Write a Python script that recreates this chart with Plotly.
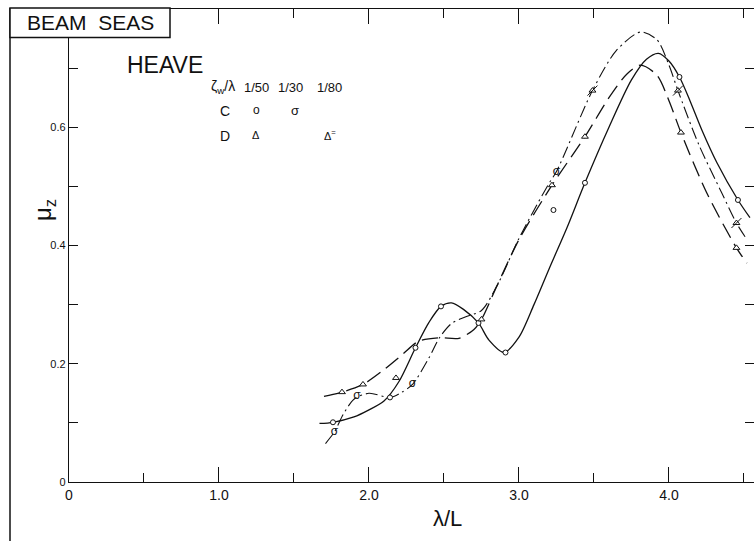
import plotly.graph_objects as go

# ---- curve traces (lambda/L , mu_z) ----
solid_x = [1.67, 1.76, 1.90, 2.00, 2.10, 2.20, 2.31, 2.40, 2.48, 2.55, 2.63, 2.73, 2.80, 2.90, 3.00, 3.10, 3.20, 3.32, 3.44, 3.60, 3.75, 3.85, 3.93, 4.00, 4.07, 4.14, 4.22, 4.32, 4.46, 4.54]
solid_y = [0.099, 0.101, 0.110, 0.122, 0.137, 0.170, 0.227, 0.270, 0.297, 0.303, 0.292, 0.269, 0.240, 0.219, 0.245, 0.300, 0.360, 0.430, 0.506, 0.600, 0.680, 0.715, 0.725, 0.712, 0.685, 0.645, 0.595, 0.540, 0.477, 0.447]

dash_x = [1.70, 1.82, 1.96, 2.10, 2.22, 2.33, 2.47, 2.60, 2.70, 2.75, 2.85, 3.00, 3.22, 3.44, 3.60, 3.72, 3.81, 3.92, 4.00, 4.08, 4.25, 4.45, 4.52]
dash_y = [0.145, 0.152, 0.165, 0.190, 0.215, 0.238, 0.244, 0.243, 0.258, 0.275, 0.330, 0.410, 0.502, 0.584, 0.650, 0.690, 0.705, 0.688, 0.645, 0.591, 0.490, 0.396, 0.370]

chain_x = [1.71, 1.77, 1.83, 1.90, 2.00, 2.14, 2.22, 2.29, 2.40, 2.47, 2.55, 2.65, 2.75, 2.86, 3.00, 3.20, 3.25, 3.49, 3.65, 3.81, 3.92, 4.00, 4.06, 4.20, 4.35, 4.45, 4.52]
chain_y = [0.065, 0.085, 0.115, 0.140, 0.150, 0.143, 0.152, 0.165, 0.210, 0.244, 0.268, 0.280, 0.290, 0.335, 0.412, 0.505, 0.525, 0.662, 0.730, 0.761, 0.748, 0.705, 0.662, 0.570, 0.490, 0.438, 0.410]

# ---- measured points ----
c50_x = [1.76, 2.14, 2.31, 2.48, 2.73, 2.91, 3.23, 3.44, 4.07, 4.46]
c50_y = [0.101, 0.143, 0.227, 0.297, 0.269, 0.219, 0.460, 0.506, 0.685, 0.477]
c30_x = [1.77, 1.92, 2.29, 3.25]
c30_y = [0.085, 0.146, 0.165, 0.525]
d50_x = [1.82, 1.96, 2.18, 2.75, 3.22, 3.44, 4.08, 4.45]
d50_y = [0.152, 0.165, 0.176, 0.275, 0.502, 0.584, 0.591, 0.396]
d80_x = [3.49, 4.06, 4.45]
d80_y = [0.662, 0.662, 0.438]

x_tick_vals = [0, 1, 2, 3, 4]
x_tick_text = ["0", "1.0", "2.0", "3.0", "4.0"]
y_tick_vals = [0, 0.2, 0.4, 0.6]
y_tick_text = ["0", "0.2", "0.4", "0.6"]

FONT = "Liberation Sans"
INK = "#111111"

fig = go.Figure()
fig.add_trace(go.Scatter(x=solid_x, y=solid_y, mode="lines", line=dict(color=INK, width=1.3, shape="spline", smoothing=0.8)))
fig.add_trace(go.Scatter(x=dash_x, y=dash_y, mode="lines", line=dict(color=INK, width=1.3, shape="spline", smoothing=0.8, dash="16px,7px")))
fig.add_trace(go.Scatter(x=chain_x, y=chain_y, mode="lines", line=dict(color=INK, width=1.1, shape="spline", smoothing=0.8, dash="12px,4px,2px,4px")))

fig.add_trace(go.Scatter(x=c50_x, y=c50_y, mode="markers",
                         marker=dict(symbol="circle", color="white", size=5, line=dict(color=INK, width=1))))
fig.add_trace(go.Scatter(x=c30_x, y=c30_y, mode="text", text=["\u03c3"] * len(c30_x), textposition="middle center",
                         textfont=dict(size=12, family=FONT, color=INK)))
fig.add_trace(go.Scatter(x=d50_x, y=d50_y, mode="markers",
                         marker=dict(symbol="triangle-up", color="white", size=6, line=dict(color=INK, width=1))))
fig.add_trace(go.Scatter(x=d80_x, y=d80_y, mode="markers",
                         marker=dict(symbol="triangle-up", color="white", size=6, line=dict(color=INK, width=1))))
fig.add_trace(go.Scatter(x=d80_x, y=d80_y, mode="markers",
                         marker=dict(symbol="line-ne", size=10, line=dict(color=INK, width=1))))

axis_common = dict(showgrid=False, zeroline=False, showline=True, linecolor=INK, linewidth=1.3, automargin=False,
                   mirror="ticks", ticks="inside", tickcolor=INK, tickwidth=1)
fig.update_xaxes(range=[0, 4.567], tickvals=x_tick_vals, ticktext=x_tick_text, ticklen=15,
                 tickfont=dict(family=FONT, size=14, color=INK),
                 minor=dict(dtick=0.5, tick0=0, ticklen=9, ticks="inside", tickcolor=INK), **axis_common)
fig.update_yaxes(range=[0, 0.8], tickvals=y_tick_vals, ticktext=y_tick_text, ticklen=9,
                 tickfont=dict(family=FONT, size=11, color=INK),
                 minor=dict(dtick=0.1, tick0=0, ticklen=9, ticks="inside", tickcolor=INK), **axis_common)

def ann(x, y, text, size, **kw):
    d = dict(x=x, y=y, text=text, showarrow=False, xanchor="center", yanchor="middle",
             font=dict(size=size, family=FONT, color=INK))
    d.update(kw)
    return d

PW, PH = 685.0, 474.0
fig.update_layout(
    width=754, height=541, showlegend=False,
    margin=dict(l=69, r=0, t=8.5, b=58.5),
    paper_bgcolor="white", plot_bgcolor="white",
    font=dict(family=FONT, color=INK),
    shapes=[
        dict(type="line", xref="paper", yref="paper", x0=-59 / PW, x1=-59 / PW, y0=1.002, y1=-1.2, line=dict(color=INK, width=1.5)),
        dict(type="rect", xref="paper", yref="paper", x0=-59 / PW, x1=101 / PW, y0=1.002, y1=1 - 28.5 / PH,
             fillcolor="white", line=dict(color=INK, width=1.5)),
    ],
    annotations=[
        ann(21 / PW, 1 - 14 / PH, "BEAM\u00a0 SEAS", 21, xref="paper", yref="paper"),
        ann(0.64, 0.705, "HEAVE", 23),
        ann(1.03, 0.6675, "\u03b6<sub>w</sub>/\u03bb", 14),
        ann(1.25, 0.6675, "1/50", 13),
        ann(1.48, 0.6675, "1/30", 13),
        ann(1.74, 0.6675, "1/80", 13),
        ann(1.04, 0.627, "C", 14),
        ann(1.25, 0.629, "o", 12),
        ann(1.51, 0.629, "\u03c3", 13),
        ann(1.04, 0.585, "D", 14),
        ann(1.25, 0.587, "\u0394", 11),
        ann(1.74, 0.587, "\u0394<sup>=</sup>", 11),
        ann((448 - 69) / PW, -37 / PH, "\u03bb/L", 22, xref="paper", yref="paper"),
        ann(-25 / PW, 0.46 / 0.8, "\u03bc<sub>z</sub>", 24, xref="paper", yref="paper", textangle=-90),
    ],
)

fig.write_html("out.html", config={"displayModeBar": False},
               post_script="document.body.style.margin='0';document.body.style.padding='0';")
